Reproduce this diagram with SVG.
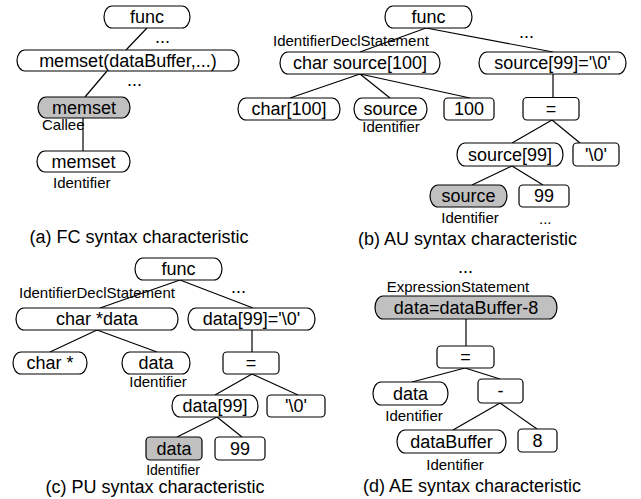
<svg xmlns="http://www.w3.org/2000/svg" width="641" height="499" viewBox="0 0 641 499">
<style>
rect{fill:#fff;stroke:#000;stroke-width:1.2}
rect.g{fill:#c0c0c0}
.c line{stroke:#000;stroke-width:1.2}
text{font-family:"Liberation Sans",Arial,sans-serif;fill:#000}
.n{font-size:18px;text-anchor:middle}
.l{font-size:15px}
.lm{font-size:15px;text-anchor:middle}
.d{font-size:18px}
.cap{font-size:18px;text-anchor:middle}
</style>
<rect x="0" y="0" width="641" height="499" style="fill:#fff;stroke:none"/>
<g class="c" id="connectors">
<line x1="147" y1="28" x2="126" y2="50"/>
<line x1="107" y1="71" x2="85" y2="97"/>
<line x1="83" y1="118" x2="83" y2="151"/>
<line x1="426" y1="28" x2="360" y2="52"/>
<line x1="426" y1="28" x2="553" y2="52"/>
<line x1="360" y1="74" x2="290" y2="98"/>
<line x1="360" y1="74" x2="390" y2="98"/>
<line x1="360" y1="74" x2="470" y2="98"/>
<line x1="553" y1="74" x2="553" y2="97"/>
<line x1="552" y1="120" x2="512" y2="143"/>
<line x1="552" y1="120" x2="580" y2="143"/>
<line x1="512" y1="166" x2="472" y2="185"/>
<line x1="512" y1="166" x2="543" y2="185"/>
<line x1="180" y1="280" x2="100" y2="308"/>
<line x1="180" y1="280" x2="253" y2="308"/>
<line x1="97" y1="330" x2="50" y2="352"/>
<line x1="97" y1="330" x2="157" y2="352"/>
<line x1="252" y1="330" x2="252" y2="352"/>
<line x1="252" y1="374" x2="215" y2="395"/>
<line x1="252" y1="374" x2="298" y2="395"/>
<line x1="217" y1="417" x2="177" y2="437"/>
<line x1="217" y1="417" x2="242" y2="437"/>
<line x1="466" y1="319" x2="466" y2="346"/>
<line x1="465" y1="368" x2="412" y2="382"/>
<line x1="465" y1="368" x2="500" y2="379"/>
<line x1="500" y1="403" x2="453" y2="430"/>
<line x1="500" y1="403" x2="537" y2="429"/>
</g>
<!-- (a) -->
<g id="a_func"><rect x="104" y="6" width="86" height="22" rx="8" ry="11"/><text class="n" x="147" y="23">func</text></g>
<text class="d" x="155" y="43">...</text>
<g id="a_memsetcall"><rect x="17" y="50" width="222" height="21" rx="8" ry="10.5"/><text class="n" x="128" y="66.5">memset(dataBuffer,...)</text></g>
<text class="d" x="127" y="86">...</text>
<g id="a_callee"><rect class="g" x="38" y="97" width="92" height="21" rx="8" ry="10.5"/><text class="n" x="84" y="113.5">memset</text><text class="l" x="42" y="130">Callee</text></g>
<g id="a_ident"><rect x="37" y="151" width="93" height="21" rx="8" ry="10.5"/><text class="n" x="83.5" y="167.5">memset</text><text class="l" x="53" y="188">Identifier</text></g>
<text class="cap" x="139" y="243">(a) FC syntax characteristic</text>
<!-- (b) -->
<g id="b_func"><rect x="385" y="6" width="87" height="22" rx="8" ry="11"/><text class="n" x="428.5" y="23">func</text></g>
<text class="l" x="273" y="46">IdentifierDeclStatement</text>
<text class="d" x="519" y="38">...</text>
<g id="b_decl"><rect x="280" y="52" width="160" height="22" rx="8" ry="11"/><text class="n" x="360" y="69">char source[100]</text></g>
<g id="b_assign"><rect x="479" y="52" width="147" height="22" rx="8" ry="11"/><text class="n" x="552.5" y="69">source[99]='\0'</text></g>
<g id="b_type"><rect x="238" y="98" width="102" height="22" rx="8" ry="11"/><text class="n" x="289" y="115">char[100]</text></g>
<g id="b_source"><rect x="354" y="98" width="73" height="22" rx="8" ry="11"/><text class="n" x="390.5" y="115">source</text><text class="lm" x="391" y="132">Identifier</text></g>
<g id="b_100"><rect x="444" y="98" width="50" height="22" rx="4"/><text class="n" x="469" y="115">100</text></g>
<g id="b_eq"><rect x="523" y="97.5" width="56" height="22.5" rx="4"/><text class="n" x="551" y="114.5">=</text></g>
<g id="b_arr"><rect x="457" y="143" width="106" height="23" rx="8" ry="11.5"/><text class="n" x="510" y="160.5">source[99]</text></g>
<g id="b_nul"><rect x="573" y="143" width="46" height="23" rx="4"/><text class="n" x="596" y="160.5">'\0'</text></g>
<g id="b_src"><rect class="g" x="430" y="185" width="77" height="22" rx="8" ry="11"/><text class="n" x="468.5" y="202">source</text><text class="lm" x="470" y="223">Identifier</text></g>
<g id="b_99"><rect x="519" y="185" width="50" height="22" rx="4"/><text class="n" x="544" y="202">99</text></g>
<text class="l" x="539" y="224">...</text>
<text class="cap" x="467.5" y="245">(b) AU syntax characteristic</text>
<!-- (c) -->
<g id="c_func"><rect x="135" y="258" width="87" height="22" rx="8" ry="11"/><text class="n" x="178.5" y="275">func</text></g>
<text class="l" x="19" y="298">IdentifierDeclStatement</text>
<text class="d" x="231" y="293">...</text>
<g id="c_decl"><rect x="16" y="308" width="162" height="22" rx="8" ry="11"/><text class="n" x="97" y="325">char *data</text></g>
<g id="c_assign"><rect x="188" y="308" width="127" height="22" rx="8" ry="11"/><text class="n" x="251.5" y="325">data[99]='\0'</text></g>
<g id="c_type"><rect x="13" y="352" width="74" height="22" rx="8" ry="11"/><text class="n" x="50" y="369">char *</text></g>
<g id="c_data"><rect x="122" y="352" width="68" height="22" rx="8" ry="11"/><text class="n" x="156" y="369">data</text><text class="lm" x="158" y="387">Identifier</text></g>
<g id="c_eq"><rect x="223" y="352" width="56" height="22" rx="4"/><text class="n" x="251" y="369">=</text></g>
<g id="c_arr"><rect x="172" y="395" width="86" height="22" rx="8" ry="11"/><text class="n" x="215" y="412">data[99]</text></g>
<g id="c_nul"><rect x="267" y="395" width="58" height="22" rx="4"/><text class="n" x="296" y="412">'\0'</text></g>
<g id="c_d"><rect class="g" x="146" y="437" width="56" height="23" rx="4"/><text class="n" x="174" y="454.5">data</text><text class="lm" x="173" y="475" style="font-size:14px">Identifier</text></g>
<g id="c_99"><rect x="215" y="437" width="50" height="23" rx="4"/><text class="n" x="240" y="454.5">99</text></g>
<text class="cap" x="155" y="493">(c) PU syntax characteristic</text>
<!-- (d) -->
<text class="d" x="458" y="273">...</text>
<text class="lm" x="458" y="292">ExpressionStatement</text>
<g id="d_expr"><rect class="g" x="375" y="296" width="182" height="23" rx="8" ry="11.5"/><text class="n" x="466" y="313.5">data=dataBuffer-8</text></g>
<g id="d_eq"><rect x="437" y="346" width="57" height="22" rx="4"/><text class="n" x="465.5" y="363">=</text></g>
<g id="d_data"><rect x="373" y="382" width="75" height="23" rx="8" ry="11.5"/><text class="n" x="410.5" y="399.5">data</text><text class="lm" x="414" y="421">Identifier</text></g>
<g id="d_minus"><rect x="478" y="379" width="45" height="24" rx="4"/><text class="n" x="500.5" y="397">-</text></g>
<g id="d_buf"><rect x="397" y="430" width="109" height="23" rx="8" ry="11.5"/><text class="n" x="451.5" y="447.5">dataBuffer</text><text class="lm" x="455" y="470">Identifier</text></g>
<g id="d_8"><rect x="518" y="429" width="39" height="23" rx="4"/><text class="n" x="537.5" y="446.5">8</text></g>
<text class="cap" x="472" y="492">(d) AE syntax characteristic</text>
</svg>
